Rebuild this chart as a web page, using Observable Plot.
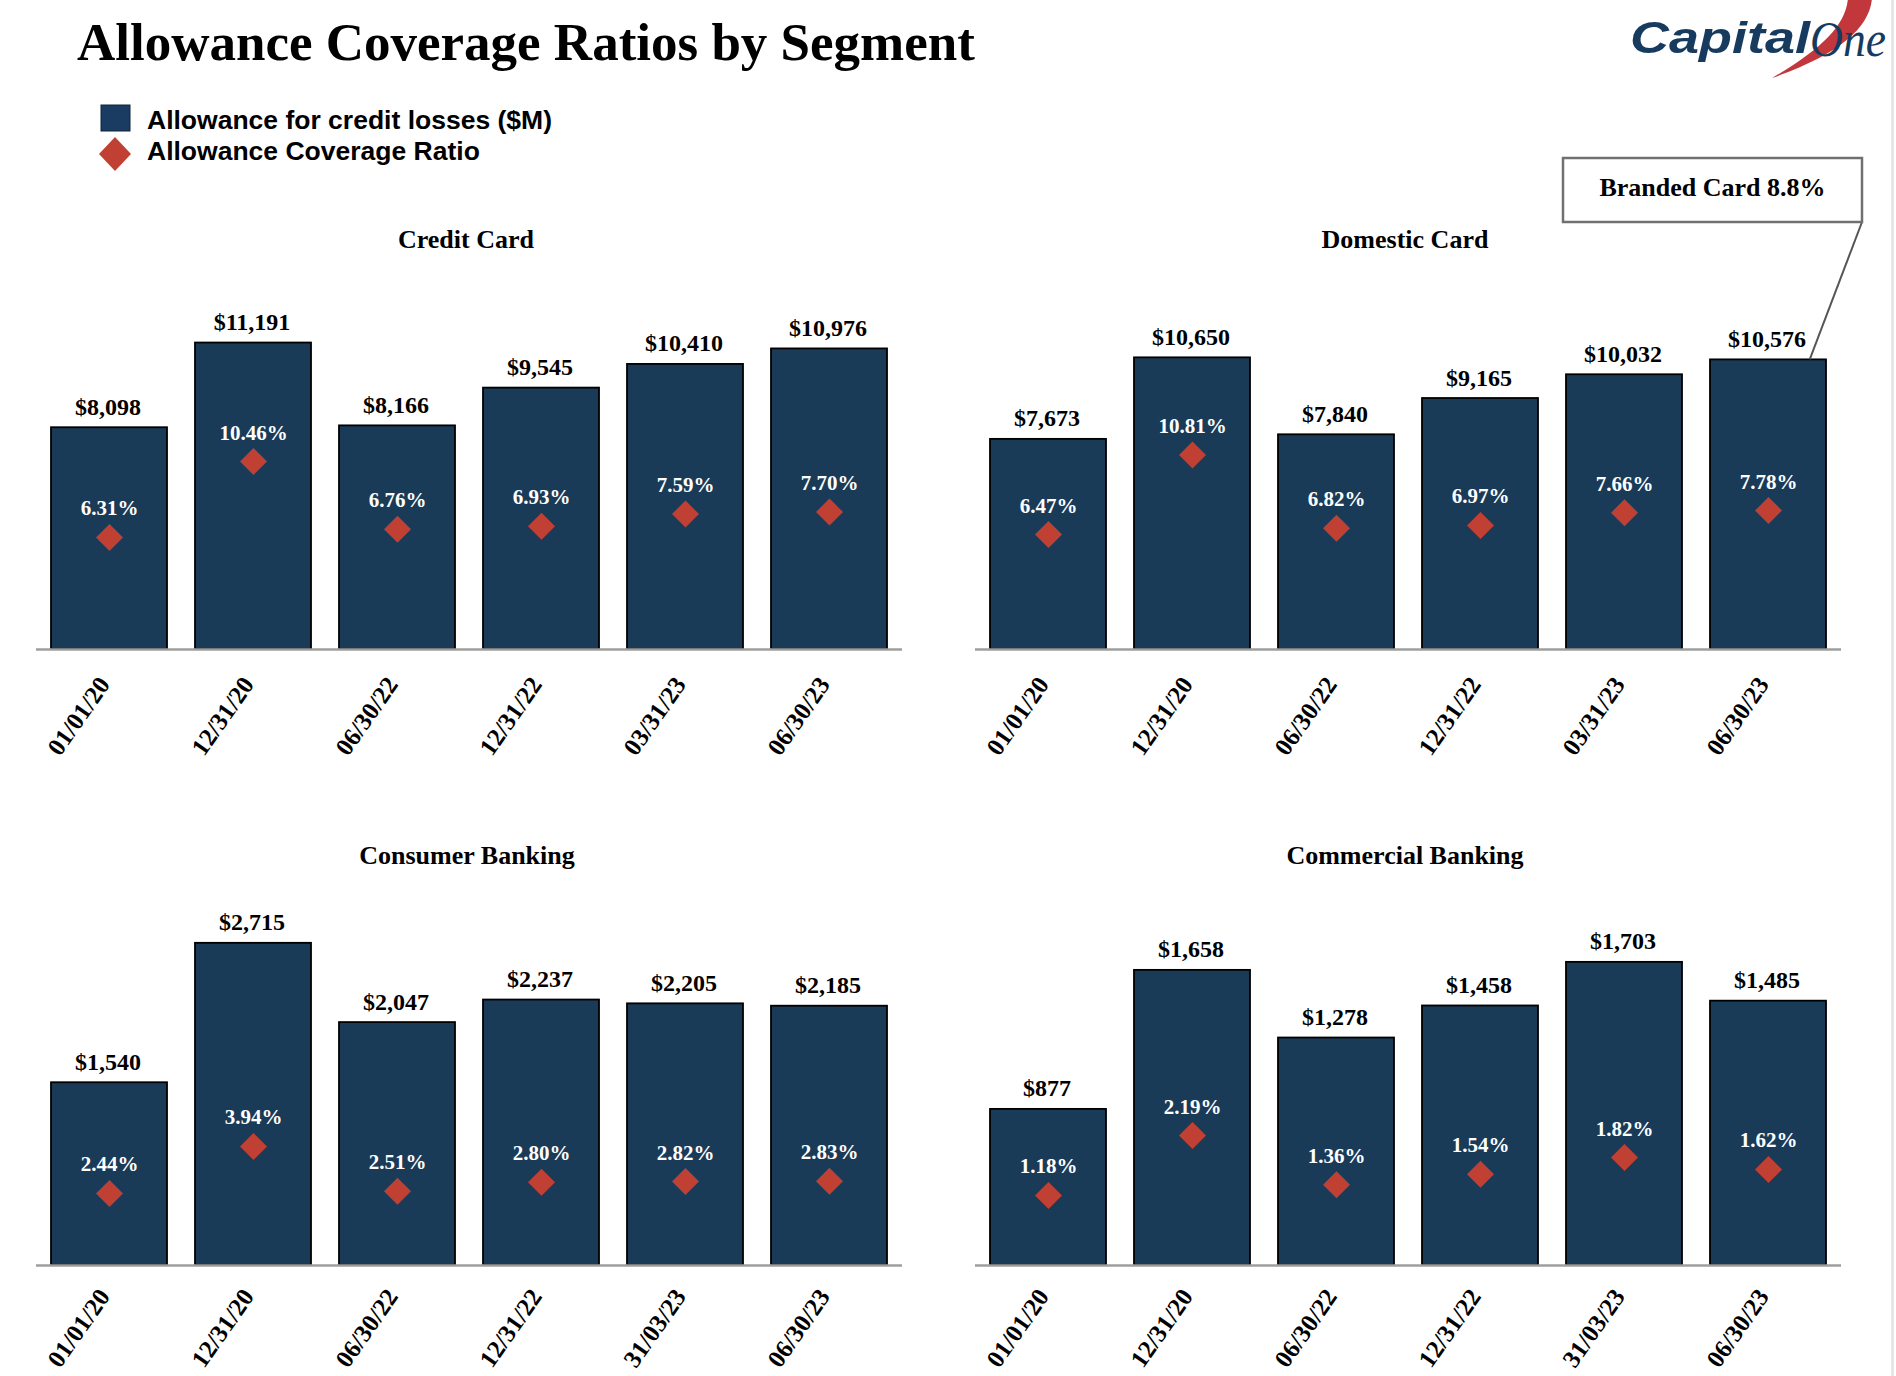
<!DOCTYPE html>
<html>
<head>
<meta charset="utf-8">
<script src="https://cdn.jsdelivr.net/npm/d3@7"></script>
<script src="https://cdn.jsdelivr.net/npm/@observablehq/plot@0.6"></script>
<style>
  html, body { margin: 0; padding: 0; background: #fff; }
  #page { position: relative; width: 1896px; height: 1376px; overflow: hidden; background: #fff; }
  .panel { position: absolute; z-index: 1; }
  #overlay { position: absolute; left: 0; top: 0; z-index: 2; pointer-events: none; }
</style>
</head>
<body>
<div id="page"></div>
<script>
// ---------------- data ----------------
const datesCards   = ["01/01/20", "12/31/20", "06/30/22", "12/31/22", "03/31/23", "06/30/23"];
const datesBanking = ["01/01/20", "12/31/20", "06/30/22", "12/31/22", "31/03/23", "06/30/23"];

const creditCardAllowance = [8098, 11191, 8166, 9545, 10410, 10976];
const creditCardRatio     = [6.31, 10.46, 6.76, 6.93, 7.59, 7.70];

const domesticCardAllowance = [7673, 10650, 7840, 9165, 10032, 10576];
const domesticCardRatio     = [6.47, 10.81, 6.82, 6.97, 7.66, 7.78];

const consumerAllowance = [1540, 2715, 2047, 2237, 2205, 2185];
const consumerRatio     = [2.44, 3.94, 2.51, 2.80, 2.82, 2.83];

const commercialAllowance = [877, 1658, 1278, 1458, 1703, 1485];
const commercialRatio     = [1.18, 2.19, 1.36, 1.54, 1.82, 1.62];

const panelTitles = ["Credit Card", "Domestic Card", "Consumer Banking", "Commercial Banking"];
const allowanceMax = [13000, 13000, 3000, 2000];          // primary axis maximum ($M)
const ratioDomains = [[0.19, 19.64], [0.19, 19.64], [0.14, 11.5], [0, 6]]; // secondary axis (%)

const calloutText = "Branded Card 8.8%";
const legendLabels = ["Allowance for credit losses ($M)", "Allowance Coverage Ratio"];
const chartTitle = "Allowance Coverage Ratios by Segment";

// ---------------- style / layout ----------------
const NAVY = "#1A3B57";
const RED = "#C04034";
const SERIF = "'Liberation Serif', 'Times New Roman', serif";
const SANS = "'Liberation Sans', Arial, sans-serif";

const layout = [
  {left: 36,  top: 280, width: 866, marginBottom: 120, titleX: 466,  titleY: 248, tickDy: 35},
  {left: 975, top: 280, width: 866, marginBottom: 120, titleX: 1405, titleY: 248, tickDy: 35},
  {left: 36,  top: 896, width: 866, marginBottom: 111, titleX: 467,  titleY: 864, tickDy: 31},
  {left: 975, top: 896, width: 866, marginBottom: 111, titleX: 1405, titleY: 864, tickDy: 31}
];
const PLOT_H = 356, MARGIN_T = 13;

const diamond = {
  draw(ctx, size) {
    const s = Math.sqrt(size / Math.PI);
    ctx.moveTo(0, -s); ctx.lineTo(s, 0); ctx.lineTo(0, s); ctx.lineTo(-s, 0); ctx.closePath();
  }
};

const page = document.getElementById("page");
const fmtMoney = v => "$" + d3.format(",")(v);

const panels = [
  {dates: datesCards,   allowance: creditCardAllowance,   ratio: creditCardRatio},
  {dates: datesCards,   allowance: domesticCardAllowance, ratio: domesticCardRatio},
  {dates: datesBanking, allowance: consumerAllowance,     ratio: consumerRatio},
  {dates: datesBanking, allowance: commercialAllowance,   ratio: commercialRatio}
];

const plots = panels.map((p, i) => {
  const L = layout[i];
  const yMax = allowanceMax[i];
  const [lo, hi] = ratioDomains[i];
  const rows = p.dates.map((d, j) => ({date: d, allowance: p.allowance[j], ratio: p.ratio[j]}));
  const ratioY = d => (d.ratio - lo) / (hi - lo) * yMax;
  const plot = Plot.plot({
    width: L.width,
    height: MARGIN_T + PLOT_H + L.marginBottom,
    marginTop: MARGIN_T, marginBottom: L.marginBottom, marginLeft: 0, marginRight: 0,
    x: {domain: p.dates, paddingInner: 0.193, paddingOuter: 0.083, axis: null},
    y: {domain: [0, yMax], axis: null},
    style: {fontFamily: SERIF, background: "transparent", overflow: "visible", maxWidth: "none"},
    marks: [
      Plot.barY(rows, {x: "date", y: "allowance", fill: NAVY, stroke: "#000", strokeWidth: 1.8}),
      Plot.ruleY([0], {stroke: "#9E9E9E", strokeWidth: 2.5}),
      Plot.text(rows, {x: "date", y: "allowance", text: d => fmtMoney(d.allowance),
        lineAnchor: "bottom", dy: -13, dx: -1.5, fontSize: 24, fontWeight: "bold", fill: "#000"}),
      Plot.dot(rows, {x: "date", y: ratioY, symbol: diamond, r: 13.5, fill: RED, stroke: "none"}),
      Plot.text(rows, {x: "date", y: ratioY, text: d => d.ratio.toFixed(2) + "%",
        lineAnchor: "bottom", dy: -22, fontSize: 21, fontWeight: "bold", fill: "#fff"}),
      Plot.text(rows, {x: "date", text: "date", frameAnchor: "bottom", rotate: -55,
        textAnchor: "end", lineAnchor: "bottom", dx: 1.5, dy: L.tickDy,
        fontSize: 25, fontWeight: "bold", fill: "#000"})
    ]
  });
  plot.classList.add("panel");
  plot.style.left = L.left + "px";
  plot.style.top = L.top + "px";
  page.appendChild(plot);
  return plot;
});

// ---------------- overlay: title, legend, logo, panel titles, callout ----------------
const ov = d3.select(page).append("svg").attr("id", "overlay")
  .attr("width", 1896).attr("height", 1376);

// right edge hairline
ov.append("rect").attr("x", 1891).attr("y", 0).attr("width", 3).attr("height", 1376).attr("fill", "#e6e6e6");

ov.append("text").attr("x", 77).attr("y", 60)
  .attr("font-family", SERIF).attr("font-weight", "bold").attr("font-size", 53)
  .attr("fill", "#000").text(chartTitle);

// legend
ov.append("rect").attr("x", 101).attr("y", 105).attr("width", 29).attr("height", 26)
  .attr("fill", "#1A3B62").attr("stroke", "#10243a").attr("stroke-width", 1);
ov.append("path").attr("transform", "translate(115,154)")
  .attr("d", "M0,-17L16,0L0,17L-16,0Z").attr("fill", RED);
ov.append("text").attr("x", 147).attr("y", 129).attr("font-family", SANS).attr("font-weight", "bold")
  .attr("font-size", 26.5).attr("fill", "#000").text(legendLabels[0]);
ov.append("text").attr("x", 147).attr("y", 160).attr("font-family", SANS).attr("font-weight", "bold")
  .attr("font-size", 26.5).attr("fill", "#000").text(legendLabels[1]);

// logo
ov.append("path")
  .attr("d", "M1872,-2 C1870,28 1838,55 1772,78 C1820,50 1846,26 1848,-2 Z")
  .attr("fill", "#C1373B");
ov.append("text").attr("x", 1630).attr("y", 53)
  .attr("font-family", SANS).attr("font-weight", "bold").attr("font-style", "italic")
  .attr("font-size", 44).attr("textLength", 180).attr("lengthAdjust", "spacingAndGlyphs")
  .attr("fill", "#163B5E").text("Capital");
ov.append("text").attr("x", 1810).attr("y", 56)
  .attr("font-family", SERIF).attr("font-style", "italic")
  .attr("font-size", 50).attr("textLength", 76).attr("lengthAdjust", "spacingAndGlyphs")
  .attr("fill", "#163B5E").text("One");

// panel titles
panelTitles.forEach((t, i) => {
  ov.append("text").attr("x", layout[i].titleX).attr("y", layout[i].titleY)
    .attr("text-anchor", "middle").attr("font-family", SERIF).attr("font-weight", "bold")
    .attr("font-size", 26).attr("fill", "#000").text(t);
});

// callout box + leader to the last Domestic Card bar
const box = {x: 1563, y: 158, w: 299, h: 64};
const dp = plots[1], L1 = layout[1];
const sx = dp.scale("x"), sy = dp.scale("y");
const lastDate = panels[1].dates[panels[1].dates.length - 1];
const lastVal = panels[1].allowance[panels[1].allowance.length - 1];
const ex = L1.left + sx.apply(lastDate) + sx.bandwidth * 0.86;
const ey = L1.top + sy.apply(lastVal);
ov.append("line").attr("x1", box.x + box.w).attr("y1", box.y + box.h).attr("x2", ex).attr("y2", ey)
  .attr("stroke", "#555").attr("stroke-width", 2);
ov.append("rect").attr("x", box.x).attr("y", box.y).attr("width", box.w).attr("height", box.h)
  .attr("fill", "#fff").attr("stroke", "#707070").attr("stroke-width", 2.5);
ov.append("text").attr("x", box.x + box.w / 2).attr("y", box.y + 38)
  .attr("text-anchor", "middle").attr("font-family", SERIF).attr("font-weight", "bold")
  .attr("font-size", 26).attr("fill", "#000").text(calloutText);
</script>
</body>
</html>
